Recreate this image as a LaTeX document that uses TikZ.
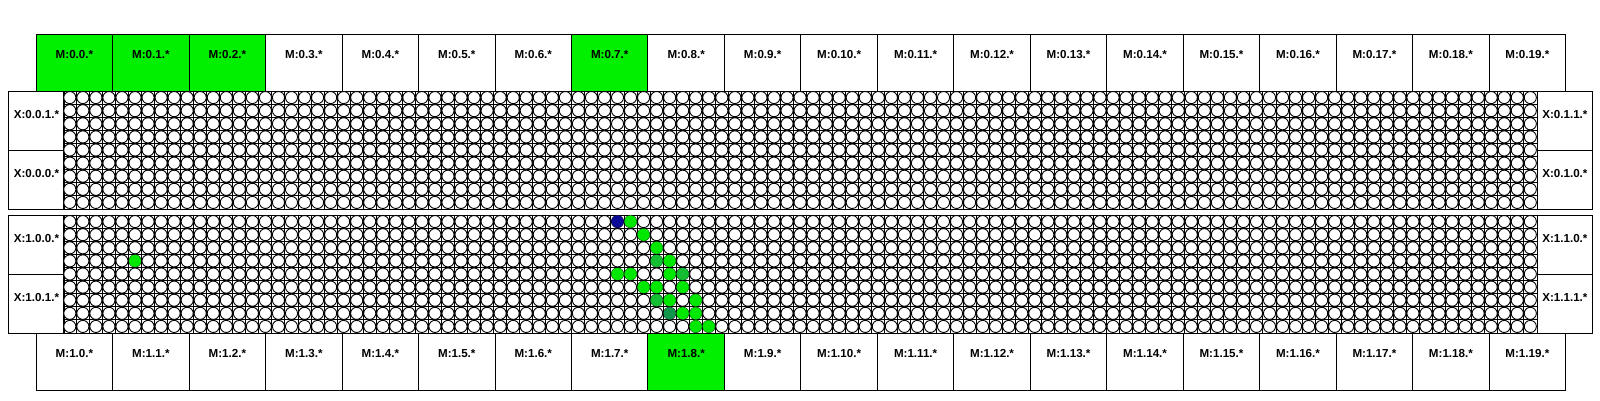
\documentclass[tikz,border=0pt]{standalone}
\usepackage{fontspec}
\setmainfont{Liberation Sans}
\definecolor{busgreen}{RGB}{0,240,0}
\definecolor{pegreen}{RGB}{0,232,0}
\definecolor{pemid}{RGB}{20,190,50}
\definecolor{pedark}{RGB}{15,150,75}
\definecolor{peblue}{RGB}{10,10,150}
\tikzset{
  box/.style={draw, line width=1pt, inner sep=0pt, anchor=north west},
  membox/.style={box, minimum width=76.47pt, minimum height=56.7pt},
  xbox/.style={box, minimum width=55.3pt, minimum height=59pt},
  tag/.style={font=\bfseries\fontsize{11.6}{13}\selectfont, inner sep=0pt,
    text height=8.3pt, text depth=0pt},
  mtag/.style={tag, anchor=center, label distance=-20pt},
  xtag/.style={tag, anchor=center, label distance=-23pt},
  wire/.style={line width=1pt},
  pe/.style={draw, line width=0.9pt, fill=white},
  hit/.style={draw=#1, fill=#1, line width=0.4pt},
}
\begin{document}
\begin{tikzpicture}[x=1pt,y=-1pt]
\useasboundingbox (0,0) rectangle (1600,400);
\foreach \i in {0,...,19}{
  \def\boxfill{white}
  \ifnum\i<3 \def\boxfill{busgreen}\fi
  \ifnum\i=7 \def\boxfill{busgreen}\fi
  \node[membox, fill=\boxfill, label={[mtag]north:{M:0.\i.*}}] (m0-\i) at ({35.7+76.47*\i},34.3) {};
  \def\boxfill{white}
  \ifnum\i=8 \def\boxfill{busgreen}\fi
  \node[membox, fill=\boxfill, label={[mtag]north:{M:1.\i.*}}] (m1-\i) at ({35.7+76.47*\i},333) {};
}
\foreach \p/\top/\a/\b in {0/91/1/0,1/215/0/1}{
  \node[xbox, label={[xtag]north:{X:\p.0.\a.*}}] (x\p-0-\a) at (8.3,\top) {};
  \node[xbox, label={[xtag]north:{X:\p.0.\b.*}}] (x\p-0-\b) at (8.3,\top+59) {};
  \node[xbox, label={[xtag]north:{X:\p.1.\a.*}}] (x\p-1-\a) at (1536.7,\top) {};
  \node[xbox, label={[xtag]north:{X:\p.1.\b.*}}] (x\p-1-\b) at (1536.7,\top+59) {};
  \node[box, minimum width=1473.4pt, minimum height=118pt] (pe\p) at (63.3,\top) {};
  \foreach \c in {1,...,112}
    \draw[wire] ({63.3+13.04*\c},\top) -- ++(0,118);
  \foreach \r in {1,...,8}
    \draw[wire] (63.3,{\top+13.11*\r}) -- ++(1473.4,0);
  \foreach \c in {0,...,112}
    \foreach \r in {0,...,8}
      \draw[pe] ({69.82+13.04*\c},{\top+6.555+13.11*\r}) circle[radius=6.05pt];
}
\foreach \c/\r/\col in {42/0/peblue,43/0/pegreen,44/1/pegreen,45/2/pegreen,
    45/3/pemid,46/3/pegreen,42/4/pegreen,43/4/pegreen,46/4/pegreen,47/4/pemid,
    44/5/pegreen,45/5/pegreen,47/5/pegreen,45/6/pemid,46/6/pegreen,48/6/pegreen,
    46/7/pedark,47/7/pegreen,48/7/pegreen,48/8/pegreen,49/8/pegreen,5/3/pegreen}
  \draw[hit=\col] ({69.82+13.04*\c},{215+6.555+13.11*\r}) circle[radius=5.9pt];
\end{tikzpicture}
\end{document}
